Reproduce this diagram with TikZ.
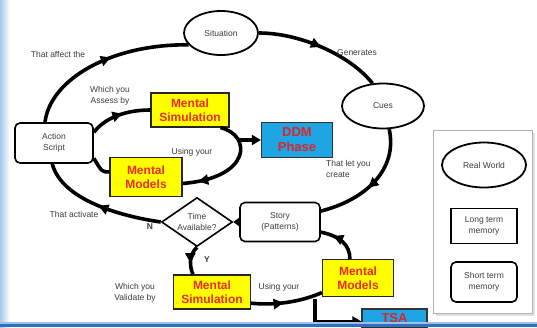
\documentclass[tikz,border=0pt]{standalone}
\usepackage{fontspec}
\setmainfont{Liberation Sans}
\usetikzlibrary{shapes.geometric,arrows.meta,decorations.markings,calc}
\definecolor{ddmblue}{HTML}{1FA5E3}
\definecolor{ddmred}{HTML}{D8262A}
\definecolor{mmred}{HTML}{EE2A1C}
\definecolor{boxyellow}{HTML}{FFFF00}
\definecolor{txtgray}{HTML}{3C3C3C}
\definecolor{barblue}{HTML}{2F6FC2}
\definecolor{edgeblue}{HTML}{A8C8EA}
\begin{document}
\begin{tikzpicture}[x=1pt,y=-1pt,
  lbl/.style={text=txtgray, font=\fontsize{8.5}{11.5}\selectfont, align=center, inner sep=0pt},
  flow/.style={line width=3.6pt, black},
  midarr/.style={postaction={decorate},decoration={markings,mark=at position #1 with {\arrow{Triangle[length=10pt,width=10pt]}}}},
  oval/.style={ellipse, draw, line width=1.8pt, inner sep=0pt, fill=white, text=txtgray, font=\fontsize{8.5}{11.5}\selectfont, align=center},
  rbox/.style={rectangle, rounded corners=5pt, draw, line width=1.6pt, fill=white, text=txtgray, font=\fontsize{8.5}{11.5}\selectfont, align=center, inner sep=0pt},
  ybox/.style={rectangle, draw=black!85, line width=1.2pt, fill=boxyellow, text=mmred, font=\fontsize{12}{14.5}\selectfont\bfseries, align=center, inner sep=0pt},
  bbox/.style={rectangle, draw=black!80, line width=1.2pt, fill=ddmblue, text=ddmred, font=\fontsize{13}{15}\selectfont\bfseries, align=center, inner sep=0pt},
  tip/.style={-{Triangle[length=9pt,width=10pt]}}
]
\useasboundingbox (0,0) rectangle (537,327);
\fill[white] (0,0) rectangle (537,327);
\shade[left color=edgeblue, right color=white] (0,0) rectangle (10,327);

% legend panel
\fill[black!12] (435.5,132.5) rectangle (534.5,315.5);
\draw[black!30, fill=white, line width=0.8pt] (433,130) rectangle (532,313);

% nodes
\node[oval, minimum width=74, minimum height=44] (sit) at (221,33) {Situation};
\node[oval, minimum width=82, minimum height=45] (cues) at (383,106) {Cues};
\node[rbox, minimum width=78, minimum height=40] (act) at (54,143) {Action\\Script};
\node[ybox, minimum width=78, minimum height=34] (ms1) at (190,110) {Mental\\Simulation};
\node[bbox, minimum width=71, minimum height=35] (ddm) at (297,140) {DDM\\Phase};
\node[ybox, minimum width=72, minimum height=39] (mm1) at (146,177) {Mental\\Models};
\node[diamond, draw, line width=1.6pt, fill=white, minimum width=71, minimum height=49, inner sep=0pt, shape aspect=1.45, text=txtgray, font=\fontsize{8.5}{11}\selectfont, align=center] (time) at (197,222) {Time\\Available?};
\node[rbox, minimum width=80, minimum height=39] (story) at (280,222) {Story\\(Patterns)};
\node[ybox, minimum width=77, minimum height=34] (ms2) at (212,292) {Mental\\Simulation};
\node[ybox, minimum width=71, minimum height=37] (mm2) at (358,278) {Mental\\Models};
\node[bbox, minimum width=65, minimum height=18] (tsa) at (394.5,318) {TSA};

\node[oval, minimum width=84, minimum height=45] (rw) at (484,165) {Real World};
\node[rectangle, draw, line width=1.4pt, fill=white, minimum width=66, minimum height=35, text=txtgray, font=\fontsize{8.5}{11.5}\selectfont, align=center, inner sep=0pt] (ltm) at (484,226) {Long term\\memory};
\node[rbox, minimum width=66, minimum height=40] (stm) at (484,282) {Short term\\memory};

% connectors
\draw[flow, midarr=0.55] ([xshift=-9pt]act.north) .. controls (50,80) and (110,44) .. (sit.200);
\draw[flow, midarr=0.5] (sit.east) .. controls (300,33) and (350,55) .. (cues.115);
\draw[flow, midarr=0.55] (cues.-75) .. controls (398,170) and (365,200) .. (story.15);
\draw[flow, midarr=0.5] (time.west) .. controls (120,216) and (62,200) .. (act.-95);
\draw[flow, -{Triangle[length=7pt,width=10pt]}] (story.west) -- (time.east);
\draw[flow, midarr=0.6] (time.south) .. controls (188,255) and (190,268) .. ([xshift=-19pt]ms2.north);
\draw[flow, midarr=0.55] (act.15) .. controls (105,118) and (125,110) .. (ms1.west);
\draw[flow, midarr=0.85] (ms1.-30) .. controls (252,135) and (252,178) .. (mm1.-10);
\coordinate (ddmstart) at (238,140);
\draw[flow, tip] (ddmstart) -- (ddm.west);
\draw[flow] (mm1.172) .. controls (102,172) .. (act.-21);
\draw[flow, midarr=0.45] (ms2.-16) .. controls (280,306) and (305,300) .. (mm2.202);
\coordinate (br) at (315,299);
\draw[flow, tip] (br) |- (tsa.186);
\draw[flow, midarr=0.7] (mm2.113) .. controls (350,245) and (340,236) .. (story.-14);

% labels
\node[lbl] (l1) at (58,54) {That affect the};
\node[lbl] (l2) at (110,96) {Which you\\Assess by};
\node[lbl] (l3) at (357,53) {Generates};
\node[lbl, anchor=west, align=left] (l4) at (326,169) {That let you\\create};
\node[lbl] (l5) at (74,214) {That activate};
\node[lbl] (l6) at (192,152) {Using your};
\node[lbl, font=\fontsize{8.5}{11.5}\selectfont\bfseries] (ln) at (150,227) {N};
\node[lbl, font=\fontsize{8.5}{11.5}\selectfont\bfseries] (ly) at (207,260) {Y};
\node[lbl] (l8) at (135,293) {Which you\\Validate by};
\node[lbl] (l9) at (279,287) {Using your};

% bottom bar
\fill[barblue!45] (0,322) rectangle (537,323.5);
\fill[barblue] (0,323.5) rectangle (537,327);
\end{tikzpicture}
\end{document}
